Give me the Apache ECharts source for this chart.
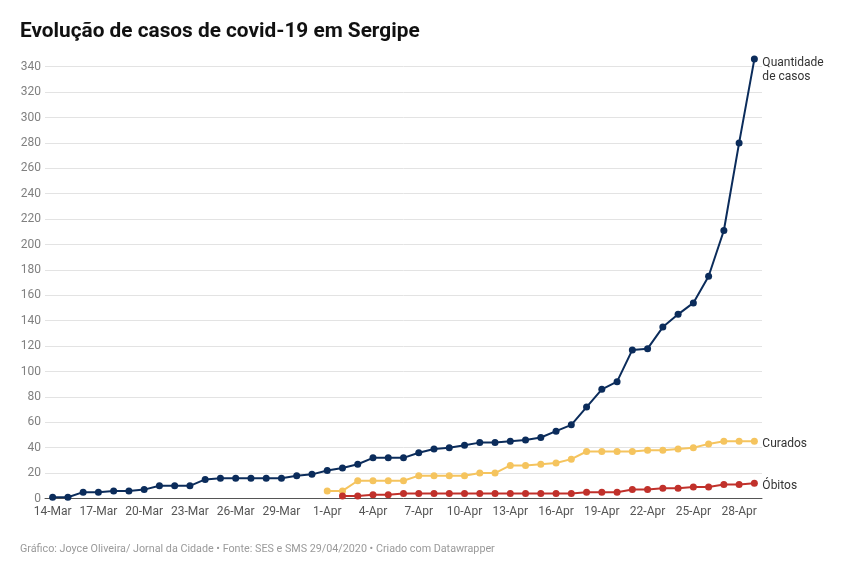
<!DOCTYPE html>
<html lang="pt">
<head>
<meta charset="UTF-8">
<title>Evolução de casos de covid-19 em Sergipe</title>
<script src="https://cdn.jsdelivr.net/npm/echarts@6/dist/echarts.min.js"></script>
<style>
    html, body { margin: 0; padding: 0; background: #fff; }
    #chart { width: 850px; height: 570px; }
</style>
</head>
<body>
<div id="chart"></div>
<script>
    const days = ['14-Mar','15-Mar','16-Mar','17-Mar','18-Mar','19-Mar','20-Mar','21-Mar','22-Mar','23-Mar',
        '24-Mar','25-Mar','26-Mar','27-Mar','28-Mar','29-Mar','30-Mar','31-Mar',
        '1-Apr','2-Apr','3-Apr','4-Apr','5-Apr','6-Apr','7-Apr','8-Apr','9-Apr','10-Apr',
        '11-Apr','12-Apr','13-Apr','14-Apr','15-Apr','16-Apr','17-Apr','18-Apr','19-Apr','20-Apr',
        '21-Apr','22-Apr','23-Apr','24-Apr','25-Apr','26-Apr','27-Apr','28-Apr','29-Apr'];

    const casos = [1,1,5,5,6,6,7,10,10,10,
        15,16,16,16,16,16,18,19,
        22,24,27,32,32,32,36,39,40,42,
        44,44,45,46,48,53,58,72,86,92,
        117,118,135,145,154,175,211,280,346];

    const curados = [null,null,null,null,null,null,null,null,null,null,
        null,null,null,null,null,null,null,null,
        6,6,14,14,14,14,18,18,18,18,
        20,20,26,26,27,28,31,37,37,37,
        37,38,38,39,40,43,45,45,45];

    const obitos = [null,null,null,null,null,null,null,null,null,null,
        null,null,null,null,null,null,null,null,
        null,2,2,3,3,4,4,4,4,4,
        4,4,4,4,4,4,4,5,5,5,
        7,7,8,8,9,9,11,11,12];

    const chart = echarts.init(document.getElementById('chart'));

    function lineSeries(name, data, color, labelText, labelOpts) {
        return {
            name: name,
            type: 'line',
            data: data,
            clip: false,
            symbol: 'circle',
            symbolSize: 7,
            lineStyle: { color: color, width: 2 },
            itemStyle: { color: color },
            endLabel: Object.assign({
                show: true,
                formatter: labelText,
                color: '#333',
                fontSize: 12,
                fontFamily: 'Roboto',
                distance: 8,
                offset: [0, 3]
            }, labelOpts || {})
        };
    }

    chart.setOption({
        animation: false,
        title: {
            text: 'Evolução de casos de covid-19 em Sergipe',
            left: 15,
            top: 16,
            textStyle: { fontFamily: 'Roboto', fontWeight: 'bold', fontSize: 20.8, color: '#111' }
        },
        graphic: [{
            type: 'text',
            left: 20,
            top: 544,
            style: {
                text: 'Gráfico: Joyce Oliveira/ Jornal da Cidade • Fonte: SES e SMS 29/04/2020 • Criado com Datawrapper',
                fill: '#9a9a9a',
                font: '10.75px Roboto'
            }
        }],
        grid: { left: 45, right: 88, top: 66.7, bottom: 71.5 },
        xAxis: {
            type: 'category',
            data: days,
            boundaryGap: true,
            axisLine: { lineStyle: { color: '#555', width: 1 } },
            axisTick: { alignWithLabel: true, interval: 2, length: 5, lineStyle: { color: '#555' } },
            axisLabel: { interval: 2, color: '#555', fontSize: 12, fontFamily: 'Roboto', margin: 7 },
            splitLine: { show: false }
        },
        yAxis: {
            type: 'value',
            min: 0,
            max: 340,
            interval: 20,
            axisLine: { show: false },
            axisTick: { show: false },
            axisLabel: { color: '#808080', fontSize: 12, fontFamily: 'Roboto', margin: 4 },
            splitLine: { lineStyle: { color: '#e3e3e3', width: 1 } }
        },
        series: [
            lineSeries('Quantidade de casos', casos, '#0b2c5b', 'Quantidade\nde casos',
                { verticalAlign: 'top', offset: [0, -3], lineHeight: 14 }),
            lineSeries('Curados', curados, '#f5c45e', 'Curados'),
            lineSeries('Óbitos', obitos, '#c1312b', 'Óbitos')
        ]
    });
</script>
</body>
</html>
